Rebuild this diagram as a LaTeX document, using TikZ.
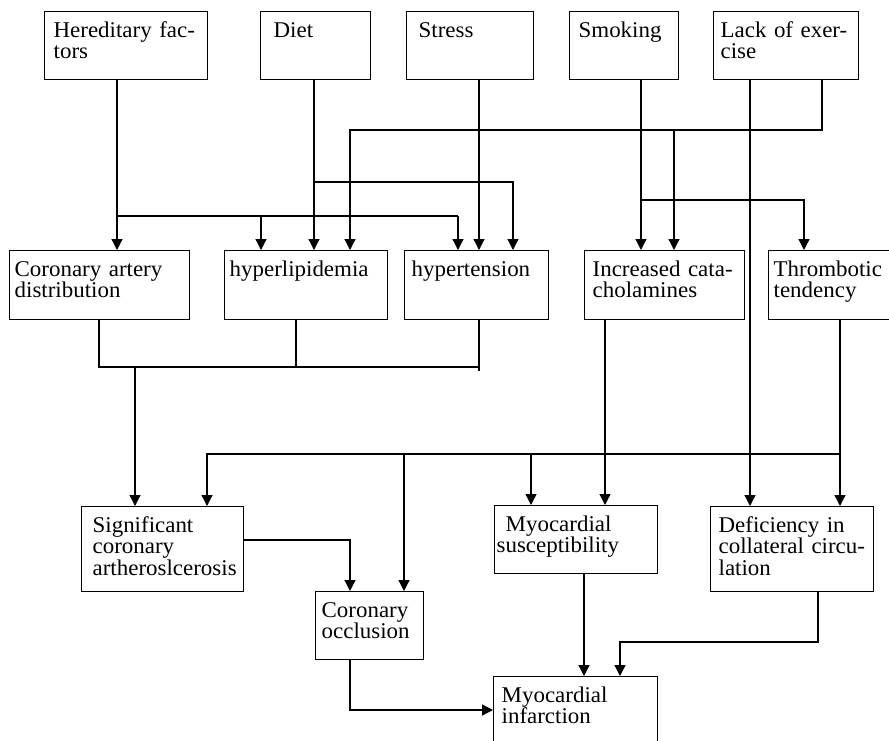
\documentclass[tikz,border=0pt]{standalone}
\usepackage{fontspec}
\setmainfont{Liberation Serif}[FakeStretch=1.02]
\usepackage{tikz}
\usetikzlibrary{arrows.meta}
\hyphenpenalty=10000
\tikzset{
	factor/.style={rectangle, draw=black, line width=1.3pt, anchor=north west, align=left, inner ysep=0pt, text height=25.5pt},
	row/.style={text depth=42.5pt},
	tall/.style={text depth=59.5pt},
	sig/.style={-{Triangle[length=11pt, width=11pt]}, line width=1.3pt},
	bus/.style={line width=1.3pt},
}
\begin{document}
\begin{tikzpicture}[x=1pt, y=-1pt, font=\fontsize{22.5}{21.5}\selectfont]
	\useasboundingbox (0,0) rectangle (889,741);
	\clip (0,0) rectangle (889,741);
	% causes
	\node[factor, row, text width=145pt, inner xsep=9pt] (hered) at (44,11) {Hereditary fac-\\tors};
	\node[factor, row, text width=84pt, inner xsep=13pt] (diet) at (260,11) {Diet};
	\node[factor, row, text width=103pt, inner xsep=12pt] (stress) at (406,11) {Stress};
	\node[factor, row, text width=91pt, inner xsep=9pt] (smoke) at (569,11) {Smoking};
	\node[factor, row, text width=131pt, inner xsep=7pt] (lack) at (713,11) {Lack of exer-\\cise};
	% intermediate conditions
	\node[factor, row, text depth=43.5pt, text width=170pt, inner xsep=5pt] (cad) at (9,250) {Coronary artery\\distribution};
	\node[factor, row, text depth=43.5pt, text width=153pt, inner xsep=5pt] (hyper) at (224,250) {hyperlipidemia};
	\node[factor, row, text depth=43.5pt, text width=130pt, inner xsep=7pt] (htn) at (404,250) {hypertension};
	\node[factor, row, text depth=43.5pt, text width=144pt, inner xsep=8pt] (cat) at (584,250) {Increased cata-\\cholamines};
	\node[factor, row, text depth=43.5pt, text width=120pt, inner xsep=5pt] (thromb) at (768,250) {Thrombotic\\tendency};
	% lower row
	\node[factor, tall, text width=140pt, inner xsep=11pt] (signif) at (81,506) {Significant\\coronary\\artheroslcerosis};
	\node[factor, row, text width=96pt, inner xsep=6pt] (occl) at (315,591) {Coronary\\occlusion};
	\node[factor, row, text width=159pt, inner xsep=2pt] (susc) at (494,505) {\hspace*{9pt}Myocardial\\susceptibility};
	\node[factor, tall, text width=147pt, inner xsep=8pt] (defic) at (710,506) {Deficiency in\\collateral~circu-\\lation};
	\node[factor, text depth=80pt, text width=148pt, inner xsep=8pt] (infarct) at (493,676) {Myocardial\\infarction};

	% junction points
	\coordinate (hb) at (117,216);
	\coordinate (hb1) at (261,216);
	\coordinate (hb2) at (458,216);
	\coordinate (db) at (314,182);
	\coordinate (db1) at (513,182);
	\coordinate (sb) at (479,0);
	\coordinate (lb) at (822,130);
	\coordinate (lb1) at (674,130);
	\coordinate (lb2) at (350,130);
	\coordinate (lx) at (750,0);
	\coordinate (mb) at (641,200);
	\coordinate (mb1) at (804,200);
	\coordinate (cb) at (99,367);
	\coordinate (cb1) at (296,367);
	\coordinate (cb2) at (479,367);
	\coordinate (cb3) at (135,367);
	\coordinate (tb) at (840,454);
	\coordinate (tb1) at (207,454);
	\coordinate (tb2) at (404,454);
	\coordinate (tb3) at (531,454);
	\coordinate (cx) at (605,0);
	\coordinate (ob) at (350,540);
	\coordinate (ib) at (350,710);
	\coordinate (ux) at (584,0);
	\coordinate (fb) at (818,642);
	\coordinate (fb1) at (620,642);

	% causes to conditions
	\draw[sig] (hered.south -| hb) -- (cad.north -| hb);
	\draw[bus] (hb) -- (hb2);
	\draw[sig] (hb1) -- (hyper.north -| hb1);
	\draw[sig] (hb2) -- (htn.north -| hb2);
	\draw[sig] (diet.south -| db) -- (hyper.north -| db);
	\draw[sig] (db) -- (db1) -- (htn.north -| db1);
	\draw[sig] (stress.south -| sb) -- (htn.north -| sb);
	\draw[sig] (lack.south -| lb) -- (lb) -- (lb2) -- (hyper.north -| lb2);
	\draw[sig] (lb1) -- (cat.north -| lb1);
	\draw[sig] (lack.south -| lx) -- (defic.north -| lx);
	\draw[sig] (smoke.south -| mb) -- (cat.north -| mb);
	\draw[sig] (mb) -- (mb1) -- (thromb.north -| mb1);

	% conditions to lower row
	\draw[bus] (cad.south -| cb) -- (cb) -- (cb2);
	\draw[bus] (hyper.south -| cb1) -- (cb1);
	\draw[bus] (htn.south -| cb2) -- ([yshift=-4pt]cb2);
	\draw[sig] (cb3) -- (signif.north -| cb3);
	\draw[sig] (thromb.south -| tb) -- (defic.north -| tb);
	\draw[sig] (tb) -- (tb1) -- (signif.north -| tb1);
	\draw[sig] (tb2) -- (occl.north -| tb2);
	\draw[sig] (tb3) -- (susc.north -| tb3);
	\draw[sig] (cat.south -| cx) -- (susc.north -| cx);

	% to infarction
	\draw[sig] (signif.east |- ob) -- (ob) -- (occl.north -| ob);
	\draw[sig] (occl.south -| ib) -- (ib) -- (infarct.west |- ib);
	\draw[sig] (susc.south -| ux) -- (infarct.north -| ux);
	\draw[sig] (defic.south -| fb) -- (fb) -- (fb1) -- (infarct.north -| fb1);
\end{tikzpicture}
\end{document}
